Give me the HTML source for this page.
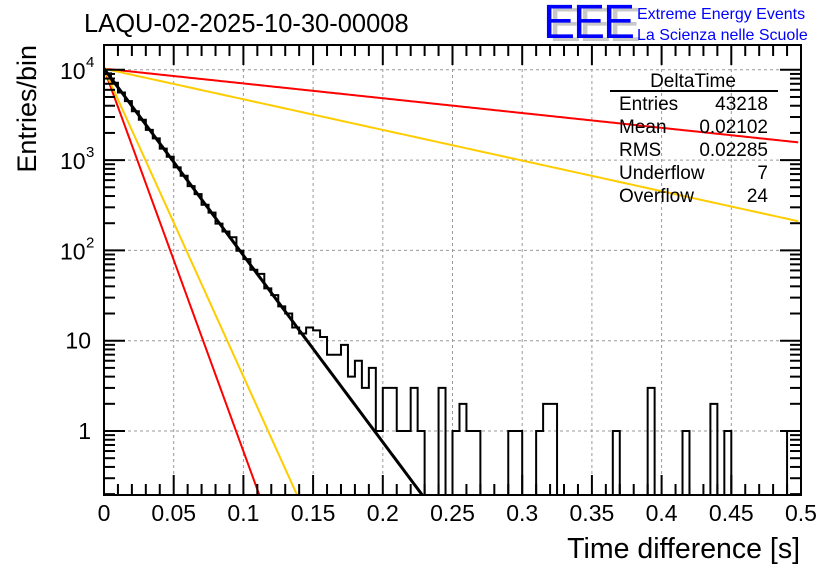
<!DOCTYPE html>
<html><head><meta charset="utf-8"><style>
body{margin:0;background:#fff;}
svg{display:block;font-family:"Liberation Sans",sans-serif;}
</style></head><body>
<svg id="chart" width="836" height="572" viewBox="0 0 836 572" xmlns="http://www.w3.org/2000/svg">
<rect width="836" height="572" fill="#fff"/>
<text x="84" y="32" font-size="25.5">LAQU-02-2025-10-30-00008</text>
<g>
<text x="549" y="41" font-size="48" fill="#c8c8c8" letter-spacing="-2">EEE</text>
<text x="543" y="38" font-size="48" fill="#0000ff" letter-spacing="-2">EEE</text>
<text x="637" y="19" font-size="16" fill="#0000ff">Extreme Energy Events</text>
<text x="637" y="40" font-size="16" fill="#0000ff">La Scienza nelle Scuole</text>
</g>
<g id="grid"></g>
<g id="marks"></g>
<g id="axes"></g>
<text x="800" y="558" font-size="28.5" text-anchor="end">Time difference [s]</text>
<text transform="translate(36,45) rotate(-90)" font-size="27" text-anchor="end">Entries/bin</text>
<g font-size="19">
<text x="693" y="87" text-anchor="middle">DeltaTime</text>
<line x1="610" y1="91" x2="778" y2="91" stroke="#000" stroke-width="2"/>
<text x="619" y="110">Entries</text><text x="768" y="110" text-anchor="end">43218</text>
<text x="619" y="133">Mean</text><text x="768" y="133" text-anchor="end">0.02102</text>
<text x="619" y="156">RMS</text><text x="768" y="156" text-anchor="end">0.02285</text>
<text x="619" y="179">Underflow</text><text x="768" y="179" text-anchor="end">7</text>
<text x="619" y="202">Overflow</text><text x="768" y="202" text-anchor="end">24</text>
</g>
</svg>
<script>
const binWidth = 0.005;
const counts = [9128,7193,5600,4500,3480,2800,2160,1740,1340,1090,830,670,515,420,320,262,198,162,140,99,80,61,55,38,32,24,20,14,12,
14,13,11,7,7,9,4,6,3,5,1,3,3,1,1,3,1,0,0,3,0,1,2,1,1,0,0,0,0,1,1,0,0,1,2,2,0,0,0,0,0,0,0,0,1,0,0,0,0,3,0,0,0,0,1,0,0,0,2,0,1,0,0,0,0,0,0,0,0,1,1];
const xTicks = [0,0.05,0.1,0.15,0.2,0.25,0.3,0.35,0.4,0.45,0.5];
const xTickLabels = ["0","0.05","0.1","0.15","0.2","0.25","0.3","0.35","0.4","0.45","0.5"];
const yDecades = [1,10,100,1000,10000];
const fitNorm = [10300,10300,10300,10300,10300];
const fitTau = [0.021,0.01025,0.01274,0.265,0.128];
const fitColor = ["#000","#ff0000","#ffcc00","#ff0000","#ffcc00"];

const X0=104,X1=801,Y0=45,Y1=495;
const xs = v => X0 + (v/0.5)*(X1-X0);
const ys = v => 431 - Math.log10(v)*90.3;
const NS="http://www.w3.org/2000/svg";
function mk(tag,attrs,parent){const e=document.createElementNS(NS,tag);for(const k in attrs)e.setAttribute(k,attrs[k]);parent.appendChild(e);return e;}
const grid=document.getElementById('grid'),marks=document.getElementById('marks'),axes=document.getElementById('axes');
const clip=mk('clipPath',{id:'pc'},document.getElementById('chart'));
mk('rect',{x:X0,y:Y0,width:X1-X0,height:Y1-Y0},clip);
marks.setAttribute('clip-path','url(#pc)');

xTicks.forEach(t=>{ if(t>0&&t<0.5){const g=mk('line',{x1:xs(t),x2:xs(t),y1:Y0,y2:Y1,stroke:'#999','stroke-dasharray':'3,3'},grid);

}});
yDecades.forEach(d=>{const g=mk('line',{x1:X0,x2:X1,y1:ys(d),y2:ys(d),stroke:'#999','stroke-dasharray':'3,3'},grid);

});

const floorV=0.1;
let pts=[];
counts.forEach((c,i)=>{const v=c>0?c:floorV;const xa=xs(i*binWidth),xb=xs((i+1)*binWidth);
pts.push([xa,ys(v)],[xb,ys(v)]);});
const d='M'+xs(0)+','+ys(floorV)+' '+pts.map(p=>'L'+p[0].toFixed(2)+','+p[1].toFixed(2)).join(' ');
const h=mk('path',{d:d,fill:'none',stroke:'#000','stroke-width':2},marks);



const order=[1,2,3,4,0];
order.forEach(k=>{let p=[];for(let t=0;t<=0.5;t+=0.002){const v=fitNorm[k]*Math.exp(-t/fitTau[k]);if(v<0.05)break;p.push(xs(t).toFixed(2)+','+ys(v).toFixed(2));}
const l=mk('polyline',{points:p.join(' '),fill:'none',stroke:fitColor[k],'stroke-width':k===0?3:2},marks);

});

const f=mk('rect',{x:X0,y:Y0,width:X1-X0,height:Y1-Y0,fill:'none',stroke:'#000','stroke-width':2},axes);


for(let i=0;i<=50;i++){const t=i*0.01;const maj=i%5===0;const L=maj?20:11;const x=xs(t);
mk('line',{x1:x,x2:x,y1:Y1,y2:Y1-L,stroke:'#000','stroke-width':2},axes);
mk('line',{x1:x,x2:x,y1:Y0,y2:Y0+L,stroke:'#000','stroke-width':2},axes);}
xTicks.forEach((t,i)=>{const tx=mk('text',{x:xs(t),y:521,'font-size':23,'text-anchor':'middle'},axes);tx.textContent=xTickLabels[i];

});
for(let e=-1;e<=4;e++){for(let m=1;m<=9;m++){const v=m*Math.pow(10,e);const y=ys(v);if(y<Y0||y>Y1)continue;const L=m===1?21:11;
mk('line',{x1:X0,x2:X0+L,y1:y,y2:y,stroke:'#000','stroke-width':2},axes);
mk('line',{x1:X1,x2:X1-L,y1:y,y2:y,stroke:'#000','stroke-width':2},axes);}}
const yl=[['1',ys(1)],['10',ys(10)]];
yl.forEach(a=>{const t=mk('text',{x:91,y:a[1]+8,'font-size':23,'text-anchor':'end'},axes);t.textContent=a[0];

});
[2,3,4].forEach(e=>{const t=mk('text',{x:60,y:ys(Math.pow(10,e))+9,'font-size':23},axes);t.textContent='10';


const s=mk('text',{x:86,y:ys(Math.pow(10,e))-3,'font-size':15},axes);s.textContent=String(e);});
</script>
</body></html>
